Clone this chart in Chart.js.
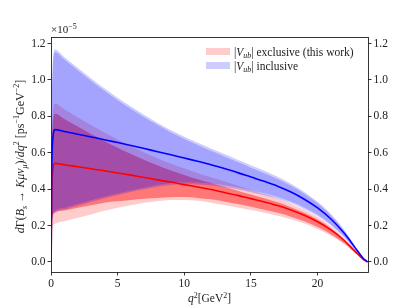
<!DOCTYPE html>
<html lang="en">
<head>
<meta charset="UTF-8">
<title>dGamma/dq2 Bs to K mu nu</title>
<script src="https://cdn.jsdelivr.net/npm/chart.js"></script>
<style>
  html, body { margin: 0; padding: 0; background: #fff; }
  #wrap { width: 409px; height: 307px; }
</style>
</head>
<body>
<div id="wrap"><canvas id="c" width="409" height="307"></canvas></div>
<script>
// q^2 grid [GeV^2]
const q2 = [0.011, 0.05, 0.12, 0.3, 1, 2, 3, 4, 5, 6, 7, 8, 9, 10, 11, 12, 13, 14, 15, 16, 17, 18, 19, 20, 21, 22, 22.5, 23, 23.4, 23.749];

// values in units of 1e-5 ps^-1 GeV^-2
// |Vub| inclusive (blue)
const inclMid     = [0, 0.47, 0.66, 0.727, 0.717, 0.702, 0.687, 0.672, 0.656, 0.640, 0.623, 0.606, 0.589, 0.571, 0.553, 0.534, 0.513, 0.491, 0.467, 0.443, 0.416, 0.384, 0.345, 0.297, 0.236, 0.158, 0.110, 0.060, 0.022, 0];
const inclOuterUp = [0, 0.75, 1.06, 1.167, 1.126, 1.067, 1.010, 0.954, 0.902, 0.854, 0.807, 0.764, 0.724, 0.688, 0.655, 0.624, 0.593, 0.562, 0.531, 0.501, 0.468, 0.430, 0.385, 0.331, 0.263, 0.176, 0.122, 0.067, 0.024, 0];
const inclInnerUp = [0, 0.74, 1.045, 1.152, 1.112, 1.053, 0.996, 0.941, 0.889, 0.841, 0.795, 0.752, 0.712, 0.676, 0.643, 0.611, 0.580, 0.549, 0.518, 0.488, 0.456, 0.419, 0.375, 0.322, 0.256, 0.171, 0.119, 0.065, 0.023, 0];
const inclInnerLo = [0, 0.18, 0.252, 0.283, 0.297, 0.318, 0.339, 0.358, 0.376, 0.393, 0.408, 0.423, 0.433, 0.438, 0.437, 0.431, 0.421, 0.409, 0.394, 0.377, 0.357, 0.332, 0.299, 0.259, 0.206, 0.138, 0.097, 0.053, 0.020, 0];
const inclOuterLo = [0, 0.175, 0.245, 0.273, 0.287, 0.309, 0.330, 0.349, 0.367, 0.384, 0.399, 0.413, 0.423, 0.427, 0.426, 0.420, 0.410, 0.398, 0.383, 0.366, 0.347, 0.322, 0.290, 0.251, 0.200, 0.134, 0.094, 0.051, 0.019, 0];

// |Vub| exclusive (red)
const exclMid     = [0, 0.35, 0.492, 0.542, 0.534, 0.523, 0.512, 0.501, 0.489, 0.477, 0.464, 0.451, 0.439, 0.425, 0.412, 0.398, 0.382, 0.366, 0.348, 0.330, 0.310, 0.286, 0.257, 0.221, 0.176, 0.118, 0.082, 0.045, 0.016, 0];
const exclOuterUp = [0, 0.56, 0.79, 0.869, 0.839, 0.795, 0.752, 0.711, 0.672, 0.636, 0.601, 0.569, 0.539, 0.513, 0.488, 0.465, 0.442, 0.419, 0.396, 0.373, 0.349, 0.320, 0.287, 0.247, 0.196, 0.131, 0.091, 0.050, 0.018, 0];
const exclInnerUp = [0, 0.52, 0.74, 0.815, 0.786, 0.744, 0.703, 0.664, 0.627, 0.593, 0.560, 0.530, 0.502, 0.478, 0.455, 0.434, 0.413, 0.392, 0.371, 0.350, 0.328, 0.301, 0.270, 0.233, 0.185, 0.124, 0.086, 0.047, 0.017, 0];
const exclInnerLo = [0, 0.175, 0.245, 0.271, 0.283, 0.298, 0.312, 0.326, 0.333, 0.341, 0.348, 0.352, 0.356, 0.357, 0.352, 0.344, 0.332, 0.318, 0.303, 0.287, 0.270, 0.249, 0.224, 0.192, 0.153, 0.103, 0.071, 0.039, 0.014, 0];
const exclOuterLo = [0, 0.135, 0.19, 0.210, 0.224, 0.243, 0.261, 0.281, 0.298, 0.312, 0.325, 0.334, 0.340, 0.340, 0.336, 0.326, 0.313, 0.300, 0.285, 0.271, 0.254, 0.235, 0.211, 0.181, 0.144, 0.097, 0.067, 0.037, 0.013, 0];

const xTicks = [0, 5, 10, 15, 20];
const yTicks = [0, 0.2, 0.4, 0.6, 0.8, 1.0, 1.2];

const SERIF = '"Liberation Serif", "DejaVu Serif", serif';
const INK = '#222';

function pts(arr) {
    return q2.map((x, i) => ({ x: x, y: arr[i] }));
}

function band(arr, fillTo, color, order) {
    return {
        data: pts(arr),
        borderWidth: 0,
        pointRadius: 0,
        fill: fillTo === null ? false : fillTo,
        backgroundColor: color,
        order: order,
        cubicInterpolationMode: 'monotone'
    };
}

function curve(arr, color, order) {
    return {
        data: pts(arr),
        borderColor: color,
        borderWidth: 1.6,
        pointRadius: 0,
        fill: false,
        order: order,
        cubicInterpolationMode: 'monotone'
    };
}

// rich text: parts = [[text, style]], style: '', 'i', 'sub', 'sup', 'isub'
function partFont(s, size) {
    const small = s.includes('sub') || s.includes('sup');
    const it = s.includes('i');
    return (it ? 'italic ' : '') + (small ? Math.round(size * 0.7) : size) + 'px ' + SERIF;
}
function richWidth(ctx, parts, size) {
    let w = 0;
    for (const [t, s] of parts) {
        ctx.font = partFont(s, size);
        w += ctx.measureText(t).width;
    }
    return w;
}
function drawRich(ctx, parts, x, y, size) {
    let cx = x;
    for (const [t, s] of parts) {
        ctx.font = partFont(s, size);
        let dy = 0;
        if (s.includes('sub')) dy = size * 0.25;
        if (s.includes('sup')) dy = -size * 0.38;
        ctx.fillText(t, cx, y + dy);
        cx += ctx.measureText(t).width;
    }
}

const yTitle = [['d', 'i'], ['Γ(', ''], ['B', 'i'], ['s', 'isub'], [' → ', ''], ['Kμν', 'i'], ['μ', 'isub'],
    [')/', ''], ['dq', 'i'], ['2', 'sup'], [' [ps', ''], ['−1', 'sup'], ['GeV', ''], ['−2', 'sup'], [']', '']];
const xTitle = [['q', 'i'], ['2', 'sup'], ['[GeV', ''], ['2', 'sup'], [']', '']];
const offsetText = [['×10', ''], ['−5', 'sup']];
const legendItems = [
    { color: 'rgba(255,0,0,0.2)', parts: [['|', ''], ['V', 'i'], ['ub', 'isub'], ['| exclusive (this work)', '']] },
    { color: 'rgba(0,0,255,0.2)', parts: [['|', ''], ['V', 'i'], ['ub', 'isub'], ['| inclusive', '']] }
];

const decor = {
    id: 'decor',
    afterDraw(chart) {
        const ctx = chart.ctx;
        const a = chart.chartArea;
        ctx.save();
        // frame
        ctx.strokeStyle = INK;
        ctx.lineWidth = 0.9;
        ctx.strokeRect(Math.round(a.left) + 0.5, Math.round(a.top) + 0.5,
            Math.round(a.right - a.left), Math.round(a.bottom - a.top));

        ctx.fillStyle = INK;
        ctx.textBaseline = 'alphabetic';
        // offset label
        drawRich(ctx, offsetText, a.left, a.top - 4, 11);

        // x title
        const xw = richWidth(ctx, xTitle, 11.5);
        drawRich(ctx, xTitle, (a.left + a.right) / 2 - xw / 2, 302, 11.5);

        // y title
        const yw = richWidth(ctx, yTitle, 12);
        ctx.save();
        ctx.translate(24, (a.top + a.bottom) / 2 + 2);
        ctx.rotate(-Math.PI / 2);
        drawRich(ctx, yTitle, -yw / 2, 0, 12);
        ctx.restore();

        // legend
        legendItems.forEach((it, i) => {
            const y = a.top + 11 + i * 14;
            ctx.fillStyle = it.color;
            ctx.fillRect(a.right - 162, y, 24, 7);
            ctx.fillStyle = INK;
            drawRich(ctx, it.parts, a.right - 134, y + 7.5, 11.5);
        });
        ctx.restore();
    }
};

const tickGrid = {
    display: true,
    drawOnChartArea: false,
    drawTicks: true,
    tickLength: 3.5,
    tickColor: INK,
    tickWidth: 0.9
};

new Chart(document.getElementById('c'), {
    type: 'line',
    data: {
        datasets: [
            band(exclOuterUp, 1, 'rgba(255,0,0,0.2)', 6),
            band(exclOuterLo, null, 'rgba(0,0,0,0)', 6),
            band(exclInnerUp, 3, 'rgba(255,0,0,0.42)', 5),
            band(exclInnerLo, null, 'rgba(0,0,0,0)', 5),
            band(inclOuterUp, 5, 'rgba(0,0,255,0.2)', 4),
            band(inclOuterLo, null, 'rgba(0,0,0,0)', 4),
            band(inclInnerUp, 7, 'rgba(0,0,255,0.2)', 3),
            band(inclInnerLo, null, 'rgba(0,0,0,0)', 3),
            curve(exclMid, '#ff0000', 1),
            curve(inclMid, '#0000ff', 0)
        ]
    },
    options: {
        responsive: false,
        animation: false,
        devicePixelRatio: 1,
        layout: { padding: { top: 37, left: 0, right: 0, bottom: 0 } },
        plugins: {
            legend: { display: false },
            tooltip: { enabled: false }
        },
        scales: {
            x: {
                type: 'linear',
                position: 'bottom',
                min: 0,
                max: 23.78,
                afterBuildTicks: s => { s.ticks = xTicks.map(v => ({ value: v })); },
                afterFit: s => { s.height = 35; },
                ticks: {
                    color: INK,
                    padding: 2,
                    font: { family: SERIF, size: 11.5 },
                    callback: v => String(v)
                },
                grid: tickGrid,
                border: { display: false }
            },
            y: {
                type: 'linear',
                position: 'left',
                min: -0.055,
                max: 1.236,
                afterBuildTicks: s => { s.ticks = yTicks.map(v => ({ value: v })); },
                afterFit: s => { s.width = 51; },
                ticks: {
                    color: INK,
                    padding: 2,
                    font: { family: SERIF, size: 11.5 },
                    callback: v => v.toFixed(1)
                },
                grid: tickGrid,
                border: { display: false }
            },
            y2: {
                type: 'linear',
                position: 'right',
                min: -0.055,
                max: 1.236,
                afterBuildTicks: s => { s.ticks = yTicks.map(v => ({ value: v })); },
                afterFit: s => { s.width = 41; },
                ticks: {
                    color: INK,
                    padding: 2,
                    font: { family: SERIF, size: 11.5 },
                    callback: v => v.toFixed(1)
                },
                grid: tickGrid,
                border: { display: false }
            }
        }
    },
    plugins: [decor]
});
</script>
</body>
</html>
